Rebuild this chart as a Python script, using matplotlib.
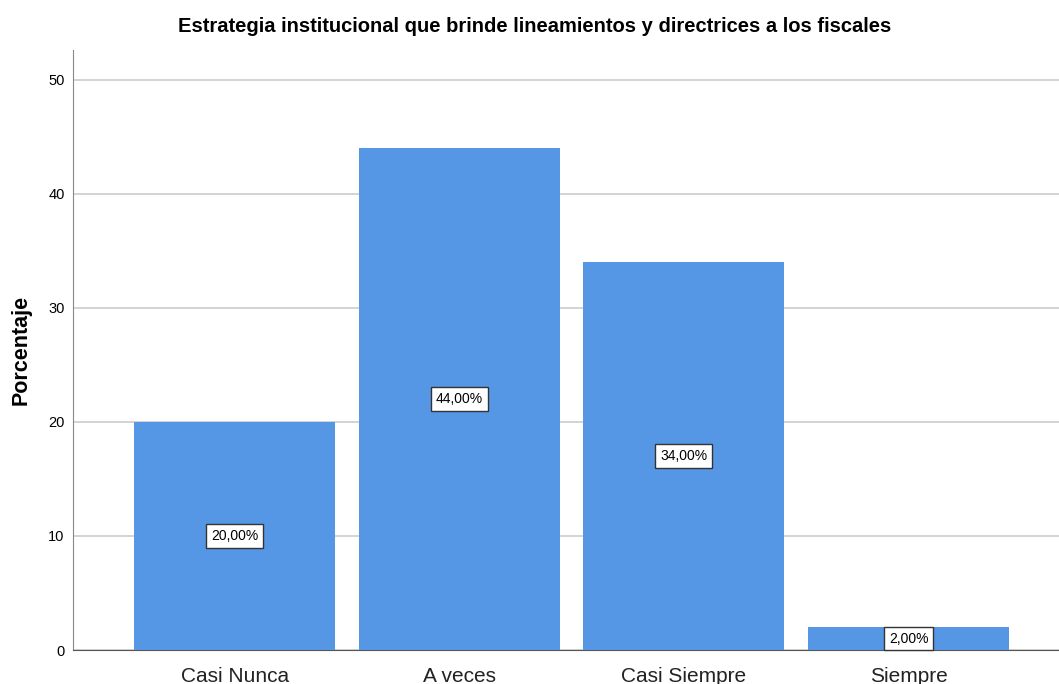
import matplotlib
matplotlib.use("Agg")
import matplotlib.pyplot as plt

categorias = ["Casi Nunca", "A veces", "Casi Siempre", "Siempre"]
porcentajes = [20.0, 44.0, 34.0, 2.0]
etiquetas = ["20,00%", "44,00%", "34,00%", "2,00%"]

plt.rcParams["font.family"] = ["Liberation Sans", "DejaVu Sans"]

fig = plt.figure(figsize=(10.59, 6.84), dpi=100)
ax = fig.add_axes([0.0689, 0.0497, 0.9311, 0.877])

x = list(range(len(categorias)))
ax.bar(x, porcentajes, width=0.895, color="#5596e5", zorder=3)

for xi, v, t in zip(x, porcentajes, etiquetas):
    ax.text(xi, v / 2, t, ha="center", va="center", fontsize=10, zorder=4,
            bbox=dict(boxstyle="square,pad=0.35", fc="white", ec="#333333", lw=1))

ax.set_xlim(-0.72, 3.67)
ax.set_ylim(0, 52.6)
ax.set_yticks([0, 10, 20, 30, 40, 50])
ax.set_xticks(x)
ax.set_xticklabels(categorias, fontsize=15, color="#222222")
ax.tick_params(axis="x", length=0, pad=12)
ax.tick_params(axis="y", length=0, pad=6, labelsize=10.5)
ax.yaxis.grid(True, color="#d0d0d0", lw=1.3, zorder=0)

for s in ["top", "right"]:
    ax.spines[s].set_visible(False)
ax.spines["left"].set_color("#888888")
ax.spines["bottom"].set_color("#555555")

ax.set_ylabel("Porcentaje", fontsize=15.5, fontweight="bold", labelpad=12)
fig.suptitle("Estrategia institucional que brinde lineamientos y directrices a los fiscales",
             fontsize=14.5, fontweight="bold", x=0.505, y=0.975)

fig.savefig("out.png", dpi=100)
